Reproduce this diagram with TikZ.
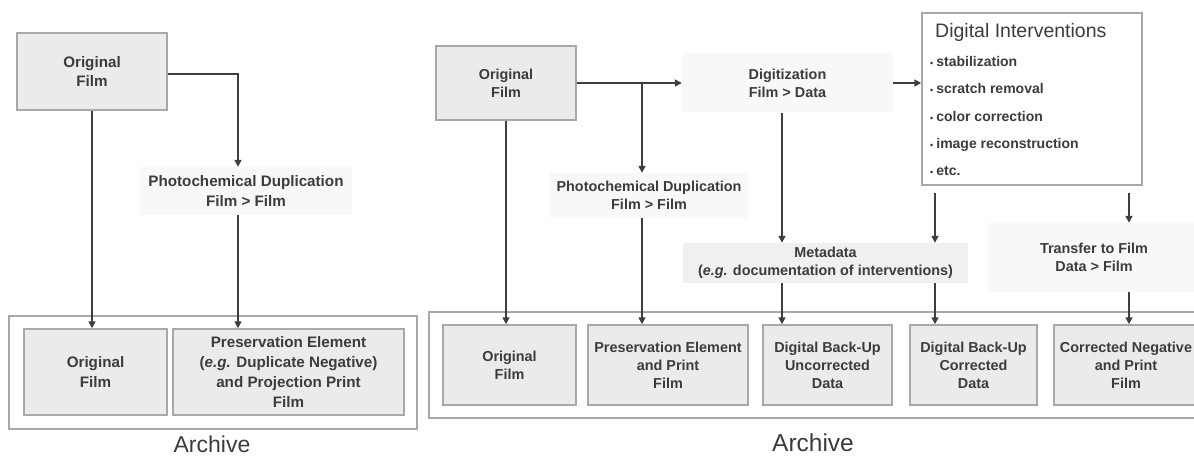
\documentclass[tikz,border=0pt]{standalone}
\usepackage{fontspec}
\setmainfont{Liberation Sans}
\usetikzlibrary{arrows.meta,positioning,calc}
\definecolor{boxfill}{RGB}{235,235,235}
\definecolor{boxline}{RGB}{168,168,168}
\definecolor{labelfill}{RGB}{248,248,248}
\definecolor{metafill}{RGB}{240,240,240}
\definecolor{textgray}{RGB}{60,60,60}
\definecolor{linegray}{RGB}{62,62,62}

\begin{document}
\begin{tikzpicture}[x=1pt, y=-1pt,
  filmbox/.style 2 args={rectangle, draw=boxline, fill=boxfill, line width=1.5pt,
    minimum width=#1, minimum height=#2, inner sep=0pt, align=center, text=textgray},
  proc/.style 2 args={rectangle, fill=labelfill,
    minimum width=#1, minimum height=#2, inner sep=0pt, align=center, text=textgray},
  archive/.style 2 args={rectangle, draw=boxline, fill=white, line width=1.5pt,
    minimum width=#1, minimum height=#2},
  flow/.style={linegray, line width=1.6pt, -{Triangle[length=7pt,width=7pt]}},
  lfont/.style={font=\bfseries\fontsize{15.2}{19.7}\selectfont},
  rfont/.style={font=\bfseries\fontsize{14.4}{18}\selectfont},
  archlabel/.style={text=textgray, inner sep=0pt},
]
  \useasboundingbox (0,0) rectangle (1194,457);

  % Left diagram: photochemical route
  \node[archive={408pt}{113pt}] (larch) at (213,372.5) {};
  \node[filmbox={150pt}{77pt}, lfont] (lorig) at (92,71.5) {Original\\Film};
  \node[proc={212pt}{48pt}, lfont] (lphoto) at (246,191) {Photochemical Duplication\\Film > Film};
  \node[filmbox={143pt}{86pt}, lfont] (lkeep) at (95.5,372) {Original\\Film};
  \node[filmbox={231pt}{86pt}, lfont] (lpres) at (288.5,372)
    {Preservation Element\\(\textit{e.g.} Duplicate Negative)\\and Projection Print\\Film};
  \node[archlabel, font=\fontsize{23}{27}\selectfont] (larchlabel) at (212,444) {Archive};
  \coordinate (lsplit) at (238,74);

  \draw[flow] (lorig.east |- lsplit) -- (lsplit) -- (lphoto.north -| lsplit);
  \draw[flow] (lphoto.south -| lsplit) -- (lpres.north -| lsplit);
  \draw[flow] (lorig.south) -- (lorig.south |- lkeep.north);

  % Right diagram: digital route
  \node[archive={775pt}{106pt}] (rarch) at (816.5,365) {};
  \node[filmbox={140pt}{74pt}, rfont] (rorig) at (506,83) {Original\\Film};
  \node[proc={211pt}{59pt}, rfont] (rdig) at (787.5,83) {Digitization\\Film > Data};
  \node[proc={198pt}{45pt}, rfont] (rphoto) at (649,195.5) {Photochemical Duplication\\Film > Film};
  \node[proc={285pt}{40pt}, rfont, fill=metafill] (rmeta) at (825.5,263)
    {Metadata\\(\textit{e.g.} documentation of interventions)};
  \node[proc={212pt}{69pt}, rfont] (rtrans) at (1094,257.5) {Transfer to Film\\Data > Film};

  % Digital interventions list
  \node[rectangle, draw=boxline, fill=white, line width=1.5pt,
    minimum width=220pt, minimum height=172pt] (di) at (1032,99) {};
  \node[archlabel, anchor=base west, font=\fontsize{19.5}{23}\selectfont] (dititle) at (935,37.5)
    {Digital Interventions};
  \foreach \entry [count=\i] in {stabilization, scratch removal, color correction,
      image reconstruction, etc.}
    \node[archlabel, anchor=base west, font=\bfseries\fontsize{14}{17}\selectfont]
      (dibullet\i) at (930,{39+27.4*\i}) {{\fontsize{9}{9}\selectfont •}\hspace{3pt}\entry};

  % Archive elements
  \node[filmbox={133pt}{80pt}, rfont] (rkeep) at (509.5,365) {Original\\Film};
  \node[filmbox={160pt}{80pt}, rfont] (rpres) at (668,365) {Preservation Element\\and Print\\Film};
  \node[filmbox={129pt}{80pt}, rfont] (rbuu) at (827.5,365) {Digital Back-Up\\Uncorrected\\Data};
  \node[filmbox={127pt}{80pt}, rfont] (rbuc) at (973.5,365) {Digital Back-Up\\Corrected\\Data};
  \node[filmbox={144pt}{80pt}, rfont] (rneg) at (1126,365) {Corrected Negative\\and Print\\Film};
  \node[archlabel, font=\fontsize{24.5}{29}\selectfont] (rarchlabel) at (813,443) {Archive};

  \coordinate (rsplit) at (642,83);
  \coordinate (rdown) at (782,0);
  \coordinate (dileft) at (935,0);
  \coordinate (diright) at (1129,0);

  \draw[flow] (rorig.east) -- (rorig.east -| rdig.west);
  \draw[flow] (rsplit) -- (rphoto.north -| rsplit);
  \draw[flow] (rphoto.south -| rsplit) -- (rpres.north -| rsplit);
  \draw[flow] (rorig.south) -- (rorig.south |- rkeep.north);
  \draw[flow] (rdig.east) -- (rdig.east -| di.west);
  \draw[flow] (rdig.south -| rdown) -- (rmeta.north -| rdown);
  \draw[flow] (rmeta.south -| rdown) -- (rbuu.north -| rdown);
  \draw[flow, shorten <=7pt] (di.south -| dileft) -- (rmeta.north -| dileft);
  \draw[flow] (rmeta.south -| dileft) -- (rbuc.north -| dileft);
  \draw[flow, shorten <=7pt] (di.south -| diright) -- (rtrans.north -| diright);
  \draw[flow] (rtrans.south -| diright) -- (rneg.north -| diright);
\end{tikzpicture}
\end{document}
